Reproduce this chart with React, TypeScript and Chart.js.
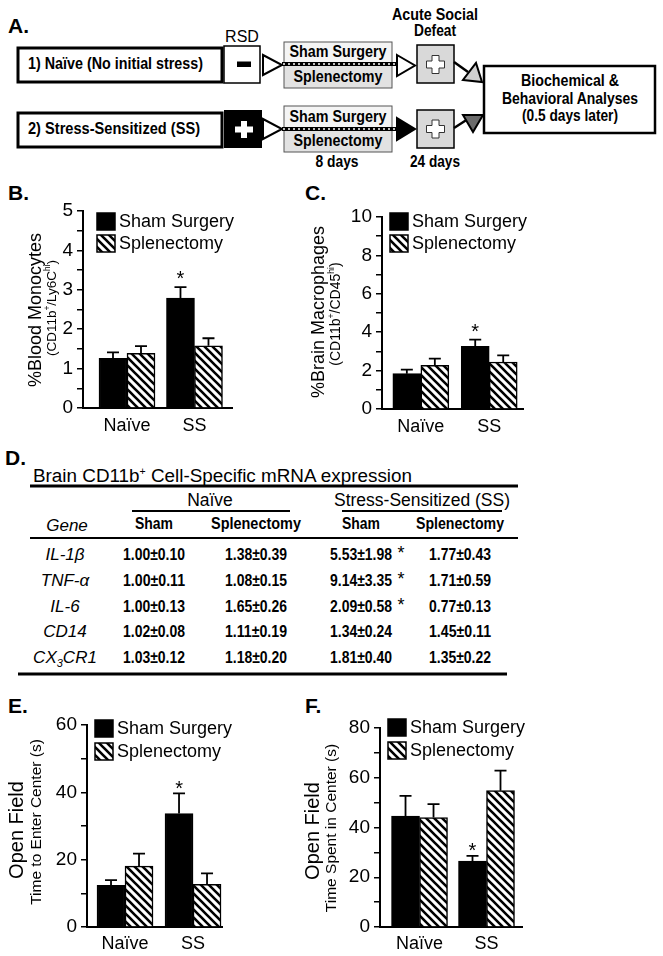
import React, { useEffect, useRef } from 'react';
import { Chart, registerables } from 'chart.js';

Chart.register(...registerables);

const ARIAL = "'Liberation Sans', Arial, Helvetica, sans-serif";
const NARROW = "'Liberation Sans Narrow', 'Arial Narrow', 'Liberation Sans', Arial, sans-serif";
Chart.defaults.font.family = ARIAL;
Chart.defaults.color = '#000';

// ---------- data ----------
const groups = ['Naïve', 'SS'];
const treatments = ['Sham Surgery', 'Splenectomy'];

// B. % blood monocytes
const monoSham = [1.26, 2.79];
const monoShamSem = [0.15, 0.28];
const monoSplen = [1.39, 1.58];
const monoSplenSem = [0.18, 0.19];
const monoShamSig = [false, true];

// C. % brain macrophages
const macSham = [1.84, 3.26];
const macShamSem = [0.21, 0.35];
const macSplen = [2.27, 2.45];
const macSplenSem = [0.35, 0.34];
const macShamSig = [false, true];

// E. time to enter center (s)
const enterSham = [12.4, 33.7];
const enterShamSem = [1.5, 6.0];
const enterSplen = [18.1, 12.7];
const enterSplenSem = [3.7, 3.2];
const enterShamSig = [false, true];

// F. time spent in center (s)
const spentSham = [44.6, 26.5];
const spentShamSem = [8.1, 2.1];
const spentSplen = [44.0, 54.8];
const spentSplenSem = [5.4, 8.1];
const spentShamSig = [false, true];

// D. table
const geneNames = ['IL-1β', 'TNF-α', 'IL-6', 'CD14', 'CX₃CR1'];
const naiveShamExpr = ['1.00±0.10', '1.00±0.11', '1.00±0.13', '1.02±0.08', '1.03±0.12'];
const naiveSplenExpr = ['1.38±0.39', '1.08±0.15', '1.65±0.26', '1.11±0.19', '1.18±0.20'];
const ssShamExpr = ['5.53±1.98', '9.14±3.35', '2.09±0.58', '1.34±0.24', '1.81±0.40'];
const ssSplenExpr = ['1.77±0.43', '1.71±0.59', '0.77±0.13', '1.45±0.11', '1.35±0.22'];
const ssShamSig = [true, true, true, false, false];

// ---------- chart panels ----------
type Seg = { t: string; sup?: boolean };
type PanelSpec = {
  left: number; top: number; width: number; height: number;
  yMax: number; yStep: number; yLabelStep: number;
  xMin: number; xMax: number;
  padTop: number; padRight: number; yAxisW: number; xAxisH: number; xLabelPad: number;
  sham: number[]; shamSem: number[]; splen: number[]; splenSem: number[]; sig: boolean[];
  sigGap: number;
  main: Seg[]; mainSize: number; mainX: number; mainY: number;
  sub: Seg[]; subSize: number; subX: number; subY: number;
  legDx: number; legDy: number; legRow: number;
};

const panelB: PanelSpec = {
  left: 0, top: 190, width: 300, height: 250,
  yMax: 5, yStep: 0.5, yLabelStep: 1, xMin: -0.652, xMax: 1.556,
  padTop: 21, padRight: 68, yAxisW: 83, xAxisH: 32, xLabelPad: 7,
  sham: monoSham, shamSem: monoShamSem, splen: monoSplen, splenSem: monoSplenSem, sig: monoShamSig,
  sigGap: 14,
  main: [{ t: '%Blood Monocytes' }], mainSize: 18, mainX: 35, mainY: 120,
  sub: [{ t: '(CD11b' }, { t: '+', sup: true }, { t: '/Ly6C' }, { t: 'hi', sup: true }, { t: ')' }],
  subSize: 13.5, subX: 51, subY: 118,
  legDx: 14, legDy: 2, legRow: 22,
};

const panelC: PanelSpec = {
  left: 300, top: 190, width: 260, height: 250,
  yMax: 10, yStep: 1, yLabelStep: 2, xMin: -0.568, xMax: 1.494,
  padTop: 27, padRight: 37, yAxisW: 82, xAxisH: 31, xLabelPad: 7,
  sham: macSham, shamSem: macShamSem, splen: macSplen, splenSem: macSplenSem, sig: macShamSig,
  sigGap: 13,
  main: [{ t: '%Brain Macrophages' }], mainSize: 18, mainX: 18, mainY: 122,
  sub: [{ t: '(CD11b' }, { t: '+', sup: true }, { t: '/CD45' }, { t: 'hi', sup: true }, { t: ')' }],
  subSize: 14, subX: 34.5, subY: 124,
  legDx: 8, legDy: -4, legRow: 22,
};

const panelE: PanelSpec = {
  left: 0, top: 700, width: 300, height: 256,
  yMax: 60, yStep: 10, yLabelStep: 20, xMin: -0.559, xMax: 1.426,
  padTop: 25, padRight: 78, yAxisW: 87, xAxisH: 29, xLabelPad: 6,
  sham: enterSham, shamSem: enterShamSem, splen: enterSplen, splenSem: enterSplenSem, sig: enterShamSig,
  sigGap: 10,
  main: [{ t: 'Open Field' }], mainSize: 20, mainX: 16, mainY: 130,
  sub: [{ t: 'Time to Enter Center (s)' }], subSize: 15.5, subX: 35, subY: 122,
  legDx: 8, legDy: -5, legRow: 23,
};

const panelF: PanelSpec = {
  left: 300, top: 700, width: 260, height: 256,
  yMax: 80, yStep: 10, yLabelStep: 20, xMin: -0.59, xMax: 1.53,
  padTop: 28, padRight: 38, yAxisW: 80, xAxisH: 29, xLabelPad: 6,
  sham: spentSham, shamSem: spentShamSem, splen: spentSplen, splenSem: spentSplenSem, sig: spentShamSig,
  sigGap: 10,
  main: [{ t: 'Open Field' }], mainSize: 20, mainX: 12, mainY: 131,
  sub: [{ t: 'Time Spent in Center (s)' }], subSize: 15.5, subX: 30, subY: 128,
  legDx: 8, legDy: -9, legRow: 23,
};

function makeHatch(): CanvasPattern | string {
  const s = 8;
  const c = document.createElement('canvas');
  c.width = s; c.height = s;
  const g = c.getContext('2d');
  if (!g) return '#fff';
  g.fillStyle = '#fff';
  g.fillRect(0, 0, s, s);
  g.strokeStyle = '#000';
  g.lineWidth = 2.6;
  g.beginPath();
  g.moveTo(-1, -1); g.lineTo(s + 1, s + 1);
  g.moveTo(-1, s - 1); g.lineTo(1, s + 1);
  g.moveTo(s - 1, -1); g.lineTo(s + 1, 1);
  g.stroke();
  return g.createPattern(c, 'repeat') || '#fff';
}

function drawRotated(ctx: CanvasRenderingContext2D, segs: Seg[], cx: number, cy: number, size: number) {
  ctx.save();
  ctx.translate(cx, cy);
  ctx.rotate(-Math.PI / 2);
  const supSize = size * 0.62;
  const widths = segs.map((s) => {
    ctx.font = `${s.sup ? supSize : size}px ${ARIAL}`;
    return ctx.measureText(s.t).width;
  });
  const total = widths.reduce((a, b) => a + b, 0);
  let x = -total / 2;
  ctx.fillStyle = '#000';
  ctx.textAlign = 'left';
  ctx.textBaseline = 'alphabetic';
  const base = size * 0.36;
  segs.forEach((s, i) => {
    ctx.font = `${s.sup ? supSize : size}px ${ARIAL}`;
    ctx.fillText(s.t, x, s.sup ? base - size * 0.42 : base);
    x += widths[i];
  });
  ctx.restore();
}

function buildChart(canvas: HTMLCanvasElement, spec: PanelSpec) {
  const hatch = makeHatch();
  const sems = [spec.shamSem, spec.splenSem];
  const decor = {
    id: 'decor',
    afterDatasetsDraw(chart: any) {
      const ctx: CanvasRenderingContext2D = chart.ctx;
      const ys = chart.scales.y;
      chart.data.datasets.forEach((ds: any, di: number) => {
        const meta = chart.getDatasetMeta(di);
        meta.data.forEach((el: any, i: number) => {
          const v = ds.data[i].y;
          const topPx = ys.getPixelForValue(v + sems[di][i]);
          ctx.save();
          ctx.strokeStyle = '#000';
          ctx.lineWidth = 1.8;
          ctx.beginPath();
          ctx.moveTo(el.x, el.y);
          ctx.lineTo(el.x, topPx);
          ctx.moveTo(el.x - 6, topPx);
          ctx.lineTo(el.x + 6, topPx);
          ctx.stroke();
          if (di === 0 && spec.sig[i]) {
            ctx.fillStyle = '#000';
            ctx.font = `20px ${ARIAL}`;
            ctx.textAlign = 'center';
            ctx.textBaseline = 'alphabetic';
            ctx.fillText('*', el.x, topPx - spec.sigGap + 11.6);
          }
          ctx.restore();
        });
      });
    },
    afterDraw(chart: any) {
      const ctx: CanvasRenderingContext2D = chart.ctx;
      const area = chart.chartArea;
      chart.data.datasets.forEach((ds: any, di: number) => {
        const bx = area.left + spec.legDx;
        const by = area.top + spec.legDy + di * spec.legRow;
        ctx.save();
        ctx.fillStyle = ds.backgroundColor;
        ctx.fillRect(bx, by, 18, 17);
        ctx.strokeStyle = '#000';
        ctx.lineWidth = 1.5;
        ctx.strokeRect(bx, by, 18, 17);
        ctx.fillStyle = '#000';
        ctx.font = `18px ${ARIAL}`;
        ctx.textAlign = 'left';
        ctx.textBaseline = 'middle';
        ctx.fillText(ds.label, bx + 22, by + 9);
        ctx.restore();
      });
      drawRotated(ctx, spec.main, spec.mainX, spec.mainY, spec.mainSize);
      drawRotated(ctx, spec.sub, spec.subX, spec.subY, spec.subSize);
    },
  };

  return new Chart(canvas, {
    type: 'bar',
    data: {
      datasets: [
        {
          label: treatments[0],
          data: spec.sham.map((v, i) => ({ x: i, y: v })),
          backgroundColor: '#000',
          borderColor: '#000',
          borderWidth: 1.5,
          barThickness: 28,
        },
        {
          label: treatments[1],
          data: spec.splen.map((v, i) => ({ x: i, y: v })),
          backgroundColor: hatch as any,
          borderColor: '#000',
          borderWidth: 1.5,
          barThickness: 28,
        },
      ],
    },
    options: {
      responsive: false,
      animation: false,
      events: [],
      layout: { padding: { top: spec.padTop, right: spec.padRight, left: 0, bottom: 0 } },
      plugins: { legend: { display: false }, tooltip: { enabled: false } },
      scales: {
        x: {
          type: 'linear',
          min: spec.xMin,
          max: spec.xMax,
          offset: false,
          grid: { display: false, drawTicks: false, tickLength: 0 },
          border: { display: true, color: '#000', width: 2 },
          ticks: {
            stepSize: 1,
            includeBounds: false,
            autoSkip: false,
            maxRotation: 0,
            padding: spec.xLabelPad,
            color: '#000',
            font: { size: 18, family: ARIAL },
            callback: (v: any) => (Number.isInteger(v) && groups[v] !== undefined ? groups[v] : ''),
          },
          afterFit: (s: any) => { s.height = spec.xAxisH; },
        },
        y: {
          min: 0,
          max: spec.yMax,
          grid: { display: true, drawOnChartArea: false, drawTicks: true, tickLength: 6, color: '#000', lineWidth: 1.5 },
          border: { display: true, color: '#000', width: 2 },
          ticks: {
            stepSize: spec.yStep,
            autoSkip: false,
            padding: 4,
            color: '#000',
            font: { size: 19, family: ARIAL },
            callback: (v: any) => {
              const r = v / spec.yLabelStep;
              return Math.abs(r - Math.round(r)) < 1e-6 ? String(v) : '';
            },
          },
          afterFit: (s: any) => { s.width = spec.yAxisW; },
        },
      },
    } as any,
    plugins: [decor],
  });
}

function BarPanel({ spec }: { spec: PanelSpec }) {
  const ref = useRef<HTMLCanvasElement>(null);
  useEffect(() => {
    if (!ref.current) return;
    const chart = buildChart(ref.current, spec);
    return () => chart.destroy();
  }, [spec]);
  return (
    <canvas
      ref={ref}
      width={spec.width}
      height={spec.height}
      style={{ position: 'absolute', left: spec.left, top: spec.top, width: spec.width, height: spec.height }}
    />
  );
}

// ---------- diagram helpers ----------
function plusPts(cx: number, cy: number, r = 9, a = 3.5) {
  const p = [
    [-a, -r], [a, -r], [a, -a], [r, -a], [r, a], [a, a], [a, r], [-a, r], [-a, a], [-r, a], [-r, -a], [-a, -a],
  ];
  return p.map(([x, y]) => `${cx + x},${cy + y}`).join(' ');
}

function GeneLabel({ name, x, y }: { name: string; x: number; y: number }) {
  const parts = name.split('₃');
  return (
    <text x={x} y={y} textAnchor="middle" fontFamily={ARIAL} fontStyle="italic" fontSize={17}>
      {parts.length === 1 ? name : (
        <>
          {parts[0]}
          <tspan fontSize={11} dy={4}>3</tspan>
          <tspan dy={-4}>{parts[1]}</tspan>
        </>
      )}
    </text>
  );
}

const colX = [154, 256, 361, 460];
const rowY = [560, 586, 612, 637, 663];

export default function App() {
  const cond = { fontFamily: NARROW, fontWeight: 'bold' as const };
  return (
    <div style={{ position: 'absolute', left: 0, top: 0, width: 663, height: 956, background: '#fff', overflow: 'hidden' }}>
      <svg width={663} height={956} style={{ position: 'absolute', left: 0, top: 0 }}>
        {/* panel letters */}
        <g fontFamily={ARIAL} fontWeight="bold" fontSize={21}>
          <text x={8} y={33}>A.</text>
          <text x={8} y={200}>B.</text>
          <text x={305} y={200}>C.</text>
          <text x={5} y={465}>D.</text>
          <text x={8} y={713}>E.</text>
          <text x={305} y={713}>F.</text>
        </g>

        {/* ---- A. design diagram ---- */}
        <rect x={18} y={48} width={204} height={34} fill="#fff" stroke="#000" strokeWidth={3} />
        <text x={28} y={69} {...cond} fontSize={17} textLength={175} lengthAdjust="spacingAndGlyphs">1) Naïve (No initial stress)</text>
        <rect x={18} y={113} width={204} height={34} fill="#fff" stroke="#000" strokeWidth={3} />
        <text x={28} y={134} {...cond} fontSize={17} textLength={172} lengthAdjust="spacingAndGlyphs">2) Stress-Sensitized  (SS)</text>

        <text x={242} y={42} textAnchor="middle" fontFamily={ARIAL} fontSize={16}>RSD</text>
        <rect x={224} y={46} width={36} height={37} fill="#fff" stroke="#000" strokeWidth={1.5} />
        <rect x={237} y={61.5} width={14} height={5.5} fill="#000" />
        <rect x={224} y={110} width={38} height={38} fill="#000" />
        <rect x={235} y={126.5} width={18} height={6} fill="#fff" />
        <rect x={241} y={121} width={6} height={17} fill="#fff" />

        <polygon points="263,55 282,65 263,75" fill="#fff" stroke="#000" strokeWidth={2} />
        <polygon points="263,119 282,129 263,139" fill="#fff" stroke="#000" strokeWidth={2} />

        {/* surgery boxes row 1 */}
        <rect x={284} y={42} width={108} height={21} fill="#f4f4f4" stroke="#555" strokeWidth={1} />
        <rect x={284} y={65} width={108} height={23} fill="#e2e2e2" stroke="#555" strokeWidth={1} />
        <line x1={282} y1={64} x2={398} y2={64} stroke="#000" strokeWidth={4} />
        <line x1={283} y1={64} x2={397} y2={64} stroke="#fff" strokeWidth={1.6} strokeDasharray="2 3" />
        <text x={338} y={57} textAnchor="middle" {...cond} fontSize={16} textLength={97} lengthAdjust="spacingAndGlyphs">Sham Surgery</text>
        <text x={338} y={82} textAnchor="middle" {...cond} fontSize={16} textLength={89} lengthAdjust="spacingAndGlyphs">Splenectomy</text>
        {/* surgery boxes row 2 */}
        <rect x={284} y={106} width={108} height={22} fill="#f4f4f4" stroke="#555" strokeWidth={1} />
        <rect x={284} y={130} width={108} height={22} fill="#e2e2e2" stroke="#555" strokeWidth={1} />
        <line x1={282} y1={129} x2={398} y2={129} stroke="#000" strokeWidth={4} />
        <line x1={283} y1={129} x2={397} y2={129} stroke="#fff" strokeWidth={1.6} strokeDasharray="2 3" />
        <text x={338} y={122} textAnchor="middle" {...cond} fontSize={16} textLength={97} lengthAdjust="spacingAndGlyphs">Sham Surgery</text>
        <text x={338} y={146} textAnchor="middle" {...cond} fontSize={16} textLength={89} lengthAdjust="spacingAndGlyphs">Splenectomy</text>
        <text x={337} y={167} textAnchor="middle" {...cond} fontSize={16} textLength={43} lengthAdjust="spacingAndGlyphs">8 days</text>

        <polygon points="397,55 415,65.5 397,76" fill="#fff" stroke="#000" strokeWidth={2} />
        <polygon points="397,118 415,129 397,140" fill="#000" stroke="#000" strokeWidth={2} />

        {/* acute social defeat */}
        <text x={435} y={20} textAnchor="middle" {...cond} fontSize={16} textLength={86} lengthAdjust="spacingAndGlyphs">Acute Social</text>
        <text x={435} y={36} textAnchor="middle" {...cond} fontSize={16} textLength={42} lengthAdjust="spacingAndGlyphs">Defeat</text>
        <rect x={417} y={45} width={37} height={38} fill="#d9d9d9" stroke="#000" strokeWidth={1.5} />
        <polygon points={plusPts(435.5, 64.5)} fill="#fff" stroke="#333" strokeWidth={1} />
        <rect x={417} y={110} width={37} height={38} fill="#d9d9d9" stroke="#000" strokeWidth={1.5} />
        <polygon points={plusPts(435.5, 129)} fill="#fff" stroke="#333" strokeWidth={1} />
        <text x={435} y={167} textAnchor="middle" {...cond} fontSize={16} textLength={50} lengthAdjust="spacingAndGlyphs">24 days</text>

        {/* connectors */}
        <line x1={454} y1={62} x2={468} y2={72} stroke="#000" strokeWidth={2.5} />
        <polygon points="463,80 482,82 476,63" fill="#cfcfcf" stroke="#000" strokeWidth={2} />
        <line x1={454} y1={128} x2={468} y2={119} stroke="#000" strokeWidth={2.5} />
        <polygon points="463,115 483,115 473,132" fill="#6b6b6b" stroke="#000" strokeWidth={2} />

        <rect x={484} y={66} width={171} height={67} fill="#fff" stroke="#000" strokeWidth={2.5} />
        <text x={570} y={86} textAnchor="middle" {...cond} fontSize={17} textLength={98} lengthAdjust="spacingAndGlyphs">Biochemical &amp;</text>
        <text x={570} y={104} textAnchor="middle" {...cond} fontSize={17} textLength={136} lengthAdjust="spacingAndGlyphs">Behavioral Analyses</text>
        <text x={570} y={121} textAnchor="middle" {...cond} fontSize={17} textLength={96} lengthAdjust="spacingAndGlyphs">(0.5 days later)</text>

        {/* ---- D. table ---- */}
        <text x={33} y={482} fontFamily={ARIAL} fontSize={18} textLength={379} lengthAdjust="spacingAndGlyphs">
          Brain CD11b<tspan fontSize={10} dy={-7}>+</tspan><tspan dy={7}> Cell-Specific mRNA expression</tspan>
        </text>
        <line x1={30} x2={518} y1={486} y2={486} stroke="#000" strokeWidth={3} />
        <text x={210} y={506} textAnchor="middle" fontFamily={ARIAL} fontSize={17.5}>Naïve</text>
        <line x1={132} x2={290} y1={511} y2={511} stroke="#000" strokeWidth={2} />
        <text x={422} y={506} textAnchor="middle" fontFamily={ARIAL} fontSize={17.5}>Stress-Sensitized (SS)</text>
        <line x1={342} x2={502} y1={511} y2={511} stroke="#000" strokeWidth={2} />
        <text x={67} y={531} textAnchor="middle" fontFamily={ARIAL} fontStyle="italic" fontSize={17}>Gene</text>
        <text x={colX[0]} y={529} textAnchor="middle" {...cond} fontSize={16} textLength={38} lengthAdjust="spacingAndGlyphs">Sham</text>
        <text x={colX[1]} y={529} textAnchor="middle" {...cond} fontSize={16} textLength={90} lengthAdjust="spacingAndGlyphs">Splenectomy</text>
        <text x={colX[2]} y={529} textAnchor="middle" {...cond} fontSize={16} textLength={38} lengthAdjust="spacingAndGlyphs">Sham</text>
        <text x={colX[3]} y={529} textAnchor="middle" {...cond} fontSize={16} textLength={88} lengthAdjust="spacingAndGlyphs">Splenectomy</text>
        <line x1={30} x2={518} y1={538} y2={538} stroke="#000" strokeWidth={2} />
        {geneNames.map((g, i) => (
          <g key={g}>
            <GeneLabel name={g} x={65} y={rowY[i]} />
            {[naiveShamExpr, naiveSplenExpr, ssShamExpr, ssSplenExpr].map((col, c) => (
              <text key={c} x={colX[c]} y={rowY[i]} textAnchor="middle" {...cond} fontSize={16.5} textLength={62} lengthAdjust="spacingAndGlyphs">
                {col[i]}
              </text>
            ))}
            {ssShamSig[i] ? (
              <text x={401} y={rowY[i] - 1} textAnchor="middle" fontFamily={ARIAL} fontSize={18}>*</text>
            ) : null}
          </g>
        ))}
        <line x1={18} x2={507} y1={674} y2={674} stroke="#000" strokeWidth={3} />
      </svg>

      <BarPanel spec={panelB} />
      <BarPanel spec={panelC} />
      <BarPanel spec={panelE} />
      <BarPanel spec={panelF} />
    </div>
  );
}
